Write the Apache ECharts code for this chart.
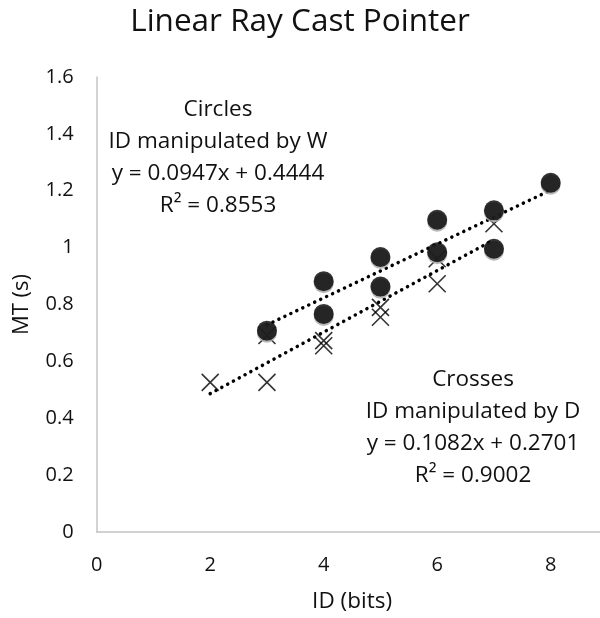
<!DOCTYPE html>
<html>
<head>
<meta charset="utf-8">
<title>Linear Ray Cast Pointer</title>
<script src="https://cdn.jsdelivr.net/npm/echarts@6/dist/echarts.min.js"></script>
<style>
  html, body { margin: 0; padding: 0; background: #fff; }
  #chart { width: 600px; height: 618px; }
</style>
</head>
<body>
<div id="chart"></div>
<script>
// Circles: ID manipulated by W
const circleId = [3, 4, 4, 5, 5, 6, 6, 7, 7, 8];
const circleMt = [0.708, 0.882, 0.767, 0.967, 0.863, 1.098, 0.984, 1.131, 0.996, 1.228];
// Crosses: ID manipulated by D
const crossId = [2, 3, 3, 4, 4, 5, 5, 6, 6, 7];
const crossMt = [0.526, 0.526, 0.691, 0.673, 0.655, 0.790, 0.755, 0.961, 0.873, 1.084];

// trendline coefficients as printed on the chart
const circleFit = { slope: 0.0947, intercept: 0.4444, r2: '0.8553' };
const crossFit = { slope: 0.1082, intercept: 0.2701, r2: '0.9002' };

const xRange = [0, 9]; // x axis runs a bit past the right edge of the picture
const yRange = [0, 1.6];

const FONT = '"Open Sans", sans-serif';
const TEXT = '#111';

function pairs(xs, ys) {
  return xs.map((x, i) => [x, ys[i]]);
}

function trend(xs, fit) {
  const lo = Math.min(...xs);
  const hi = Math.max(...xs);
  return [lo, hi].map(x => [x, fit.slope * x + fit.intercept]);
}

function fitLines(name, fit) {
  return [name, 'ID manipulated by ' + (name === 'Circles' ? 'W' : 'D'),
    'y = ' + fit.slope.toFixed(4) + 'x + ' + fit.intercept.toFixed(4),
    'R² = ' + fit.r2].join('\n');
}

const chart = echarts.init(document.getElementById('chart'));

const option = {
  animation: false,
  title: {
    text: 'Linear Ray Cast Pointer',
    left: 'center',
    top: 1,
    padding: [5, 0, 5, 12],
    textStyle: { fontFamily: FONT, fontSize: 31.5, fontWeight: 'normal', color: TEXT }
  },
  grid: {
    left: 96.7,
    top: 77,
    width: 510.75,
    height: 455,
    outerBoundsMode: 'none'
  },
  xAxis: {
    type: 'value',
    min: xRange[0],
    max: xRange[1],
    interval: 2,
    name: 'ID (bits)',
    nameLocation: 'middle',
    nameGap: 58,
    nameTextStyle: { fontFamily: FONT, fontSize: 22.5, color: TEXT },
    axisLine: { show: true, lineStyle: { color: '#c4c4c4', width: 1.5 } },
    axisTick: { show: false },
    splitLine: { show: false },
    axisLabel: { margin: 23, showMaxLabel: false, fontFamily: FONT, fontSize: 20, color: TEXT }
  },
  yAxis: {
    type: 'value',
    min: yRange[0],
    max: yRange[1],
    interval: 0.2,
    name: 'MT (s)',
    nameLocation: 'middle',
    nameGap: 64,
    nameTextStyle: { fontFamily: FONT, fontSize: 22, color: TEXT },
    axisLine: { show: true, lineStyle: { color: '#c4c4c4', width: 1.5 } },
    axisTick: { show: false },
    splitLine: { show: false },
    axisLabel: {
      margin: 23,
      fontFamily: FONT,
      fontSize: 20,
      color: TEXT,
      formatter: v => String(Math.round(v * 10) / 10)
    }
  },
  graphic: [
    {
      type: 'text', x: 218, y: 158,
      style: {
        text: fitLines('Circles', circleFit),
        font: '22.5px ' + FONT, fill: TEXT,
        align: 'center', verticalAlign: 'middle', lineHeight: 32
      }
    },
    {
      type: 'text', x: 473, y: 428,
      style: {
        text: fitLines('Crosses', crossFit),
        font: '22.5px ' + FONT, fill: TEXT,
        align: 'center', verticalAlign: 'middle', lineHeight: 32
      }
    }
  ],
  series: [
    {
      name: 'Crosses',
      type: 'scatter',
      z: 2,
      symbol: 'path://M0,0L10,10M10,0L0,10',
      symbolSize: 17,
      itemStyle: { color: 'none', borderColor: '#000', borderWidth: 1.6 },
      data: pairs(crossId, crossMt)
    },
    {
      name: 'Crosses trend',
      type: 'line',
      z: 3,
      showSymbol: false,
      silent: true,
      lineStyle: { color: '#000', width: 3.5, type: [0.1, 6.5], cap: 'round' },
      data: trend(crossId, crossFit)
    },
    {
      name: 'Circles trend',
      type: 'line',
      z: 3,
      showSymbol: false,
      silent: true,
      lineStyle: { color: '#000', width: 3.5, type: [0.1, 6.5], cap: 'round' },
      data: trend(circleId, circleFit)
    },
    {
      name: 'Circles',
      type: 'scatter',
      z: 4,
      symbol: 'circle',
      symbolSize: 20,
      itemStyle: {
        color: '#000',
        shadowColor: '#a6a6a6',
        shadowOffsetY: 2,
        shadowBlur: 0
      },
      data: pairs(circleId, circleMt)
    }
  ]
};

chart.setOption(option);
</script>
</body>
</html>
